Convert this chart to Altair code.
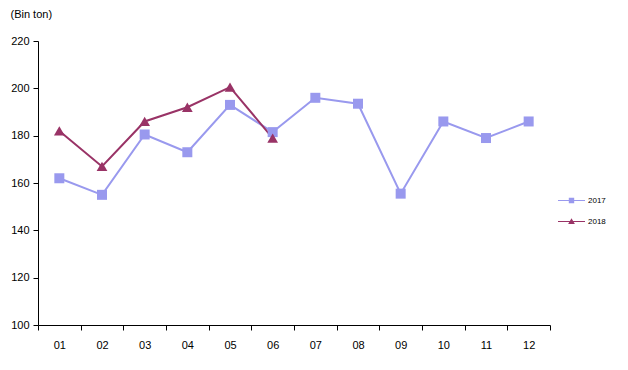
import altair as alt
import pandas as pd

months = ["01", "02", "03", "04", "05", "06", "07", "08", "09", "10", "11", "12"]
v2017 = [162, 155, 180.5, 173, 193, 181.5, 196, 193.5, 155.5, 186, 179, 186]
v2018 = [182, 167, 186, 192, 200.5, 179]

rows = []
for m, v in zip(months, v2017):
    rows.append({"month": m, "value": v, "series": "2017"})
for m, v in zip(months, v2018):
    rows.append({"month": m, "value": v, "series": "2018"})
df = pd.DataFrame(rows)

FONT = "Liberation Sans"
colors = ["#9999ee", "#993366"]
dom = ["2017", "2018"]

x = alt.X("month:O", title=None, scale=alt.Scale(type="band", paddingInner=0, paddingOuter=0),
          bandPosition=0.5,
          axis=alt.Axis(labelAngle=0, tickBand="extent", tickSize=5, labelPadding=9,
                        domainColor="black", tickColor="black", labelColor="black",
                        labelFont=FONT, labelFontSize=11, grid=False))
y = alt.Y("value:Q", scale=alt.Scale(domain=[100, 220], nice=False, zero=False),
          axis=alt.Axis(values=[100, 120, 140, 160, 180, 200, 220], tickSize=5, labelPadding=4,
                        domainColor="black", tickColor="black", labelColor="black",
                        labelFont=FONT, labelFontSize=11, grid=False,
                        title="(Bin ton)", titleAngle=0, titleX=-28, titleY=-27,
                        titleAlign="left", titleBaseline="middle", titleFont=FONT,
                        titleFontSize=11, titleFontWeight="normal", titleColor="black"))

legend = alt.Legend(title=None, orient="none", legendX=519, legendY=145,
                    symbolSize=729, labelFont=FONT, labelFontSize=8,
                    labelColor="black", rowPadding=-11, labelOffset=2,
                    symbolOpacity=1)
paths = ["M-1,-0.045H1V0.045H-1Z M-0.2,-0.2H0.2V0.2H-0.2Z",
         "M-1,-0.045H1V0.045H-1Z M0,-0.24L0.25,0.18H-0.25Z"]


def cenc(leg=None):
    return alt.Color("series:N", scale=alt.Scale(domain=dom, range=colors), legend=leg)


lines = alt.Chart(df).mark_line(strokeWidth=2).encode(x=x, y=y, color=cenc())
p17 = alt.Chart(df).transform_filter("datum.series == '2017'").mark_point(
    filled=True, opacity=1, size=100, shape="square").encode(x=x, y=y, color=cenc())
p18 = alt.Chart(df).transform_filter("datum.series == '2018'").mark_point(
    filled=True, opacity=1, size=115, shape="triangle-up").encode(x=x, y=y, color=cenc())
leg = alt.Chart(df).mark_point(filled=True, opacity=0).encode(
    x=x, y=y,
    color=cenc(legend),
    shape=alt.Shape("series:N", scale=alt.Scale(domain=dom, range=paths), legend=legend),
)

chart = alt.layer(lines, p17, p18, leg).resolve_scale(
    color="independent", shape="independent"
).properties(
    width=512, height=284,
    background="white",
    autosize=alt.AutoSizeParams(type="none"),
    padding={"left": 30, "top": 33, "right": 70, "bottom": 37},
).configure_view(stroke=None)

chart.save("out.html", embed_options={"renderer": "svg", "actions": False})
